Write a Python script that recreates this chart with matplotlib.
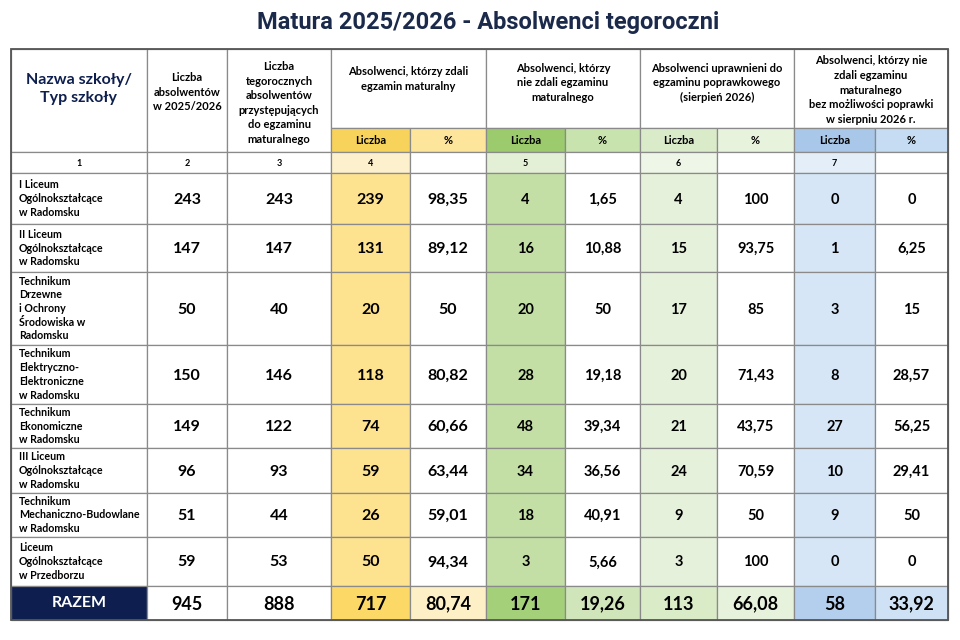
import matplotlib.pyplot as plt
from matplotlib.patches import Rectangle

# ---- data ----
schools = [
    "I Liceum\nOgólnokształcące\nw Radomsku",
    "II Liceum\nOgólnokształcące\nw Radomsku",
    "Technikum\nDrzewne\ni Ochrony\nŚrodowiska w\nRadomsku",
    "Technikum\nElektryczno-\nElektroniczne\nw Radomsku",
    "Technikum\nEkonomiczne\nw Radomsku",
    "III Liceum\nOgólnokształcące\nw Radomsku",
    "Technikum\nMechaniczno-Budowlane\nw Radomsku",
    "Liceum\nOgólnokształcące\nw Przedborzu",
]
absolwenci = [243, 147, 50, 150, 149, 96, 51, 59]
przystepujacy = [243, 147, 40, 146, 122, 93, 44, 53]
zdali = [239, 131, 20, 118, 74, 59, 26, 50]
zdali_pct = [98.35, 89.12, 50, 80.82, 60.66, 63.44, 59.01, 94.34]
nie_zdali = [4, 16, 20, 28, 48, 34, 18, 3]
nie_zdali_pct = [1.65, 10.88, 50, 19.18, 39.34, 36.56, 40.91, 5.66]
poprawka = [4, 15, 17, 20, 21, 24, 9, 3]
poprawka_pct = [100, 93.75, 85, 71.43, 43.75, 70.59, 50, 100]
bez_poprawki = [0, 1, 3, 8, 27, 10, 9, 0]
bez_poprawki_pct = [0, 6.25, 15, 28.57, 56.25, 29.41, 50, 0]
razem = [945, 888, 717, 80.74, 171, 19.26, 113, 66.08, 58, 33.92]

col_heads = [
    "Liczba\nabsolwentów\nw 2025/2026",
    "Liczba\ntegorocznych\nabsolwentów\nprzystępujących\ndo egzaminu\nmaturalnego",
]
group_heads = [
    "Absolwenci, którzy zdali\negzamin maturalny",
    "Absolwenci, którzy\nnie zdali egzaminu\nmaturalnego",
    "Absolwenci uprawnieni do\negzaminu poprawkowego\n(sierpień 2026)",
    "Absolwenci, którzy nie\nzdali egzaminu\nmaturalnego\nbez możliwości poprawki\nw sierpniu 2026 r.",
]
col_numbers = ["1", "2", "3", "4", "", "5", "", "6", "", "7", ""]


def fmt(v):
    s = f"{v:.2f}".rstrip("0").rstrip(".")
    return s.replace(".", ",")


# ---- layout (pixels) ----
col_x = [11, 147, 227, 331, 410, 486, 565, 640, 717, 794, 875, 948]
row_y = [49, 128, 152, 173, 224, 272, 345, 404, 448, 493, 537, 586, 620]

navy = "#0e1f4f"
grid = "#8a8a8a"
font = ["Lato", "DejaVu Sans"]

# colours per numeric column (index 3..10): header, data, number row, total
head_c = {3: "#f8d35c", 4: "#fde59c", 5: "#9bcb6d", 6: "#c8e3ad",
          7: "#d9ebc8", 8: "#e8f3de", 9: "#a8c7e9", 10: "#c5dcf2"}
data_c = {3: "#fde28f", 5: "#c3dfa5", 7: "#e6f1db", 9: "#d6e6f6"}
num_c = {3: "#fdf1cd", 5: "#e3f0d6", 7: "#eef6e7", 9: "#e4eef9"}
tot_c = {3: "#fcd866", 4: "#fdefc6", 5: "#a5d07a", 6: "#d0e6ba",
         7: "#d9ebc7", 8: "#e6f2db", 9: "#b4ceed", 10: "#cfe2f5"}

fig = plt.figure(figsize=(9.6, 6.4), dpi=100)
ax = fig.add_axes([0, 0, 1, 1])
ax.set_xlim(0, 960)
ax.set_ylim(640, 0)
ax.axis("off")


def cell(c0, c1, r0, r1, color="white"):
    ax.add_patch(Rectangle((col_x[c0], row_y[r0]), col_x[c1] - col_x[c0],
                           row_y[r1] - row_y[r0], facecolor=color,
                           edgecolor=grid, linewidth=0.9))


def cx(c0, c1=None):
    if c1 is None:
        c1 = c0 + 1
    return (col_x[c0] + col_x[c1]) / 2


# title
ax.text(488, 23, "Matura 2025/2026 - Absolwenci tegoroczni", ha="center",
        va="center", fontsize=17, fontweight="bold", color="#1b2a4a",
        family=["Roboto", "DejaVu Sans"])

# header cells
cell(0, 1, 0, 2)
ax.text(cx(0), 89, "Nazwa szkoły/\nTyp szkoły", ha="center", va="center",
        fontsize=11.5, fontweight="bold", color=navy, family=font,
        linespacing=1.45)
cell(1, 2, 0, 2)
ax.text(cx(1), 92, col_heads[0], ha="center", va="center", fontsize=8,
        fontweight="bold", family=font, linespacing=1.4)
cell(2, 3, 0, 2)
ax.text(cx(2), 103, col_heads[1], ha="center", va="center", fontsize=8,
        fontweight="bold", family=font, linespacing=1.4)

group_y = [79, 83, 83, 90]
for g in range(4):
    c0 = 3 + 2 * g
    cell(c0, c0 + 2, 0, 1)
    ax.text(cx(c0, c0 + 2), group_y[g], group_heads[g], ha="center",
            va="center", fontsize=8, fontweight="bold", family=font,
            linespacing=1.4)
    cell(c0, c0 + 1, 1, 2, head_c[c0])
    cell(c0 + 1, c0 + 2, 1, 2, head_c[c0 + 1])
    ax.text(cx(c0), 140, "Liczba", ha="center", va="center", fontsize=8,
            fontweight="bold", family=font)
    ax.text(cx(c0 + 1), 140, "%", ha="center", va="center", fontsize=8,
            fontweight="bold", family=font)

# column number row
for c in range(11):
    cell(c, c + 1, 2, 3, num_c.get(c, "white"))
    ax.text(cx(c), 163, col_numbers[c], ha="center", va="center",
            fontsize=6.5, fontweight="bold", family=font)

# data rows
columns = [absolwenci, przystepujacy, zdali, zdali_pct, nie_zdali,
           nie_zdali_pct, poprawka, poprawka_pct, bez_poprawki,
           bez_poprawki_pct]
for i in range(len(schools)):
    r = 3 + i
    ym = (row_y[r] + row_y[r + 1]) / 2
    cell(0, 1, r, r + 1)
    ax.text(col_x[0] + 8, ym, schools[i], ha="left", va="center",
            fontsize=7.7, fontweight="bold", family=font, linespacing=1.3)
    for j, vals in enumerate(columns):
        c = j + 1
        cell(c, c + 1, r, r + 1, data_c.get(c, "white"))
        size = 11.5 if c < 5 else 10.5
        ax.text(cx(c), ym + 1, fmt(vals[i]), ha="center", va="center",
                fontsize=size, fontweight="bold", family=font)

# total row
r = len(row_y) - 2
ym = (row_y[r] + row_y[r + 1]) / 2
cell(0, 1, r, r + 1, navy)
ax.text(cx(0), ym, "RAZEM", ha="center", va="center", fontsize=11.5,
        fontweight="bold", color="white", family=font)
for j, v in enumerate(razem):
    c = j + 1
    cell(c, c + 1, r, r + 1, tot_c.get(c, "white"))
    ax.text(cx(c), ym + 1, fmt(v), ha="center", va="center", fontsize=13,
            fontweight="bold", family=font)

# outer border
ax.add_patch(Rectangle((col_x[0], row_y[0]), col_x[-1] - col_x[0],
                       row_y[-1] - row_y[0], fill=False, edgecolor="#555555",
                       linewidth=1.3))

fig.savefig("out.png", dpi=100, facecolor="white")
